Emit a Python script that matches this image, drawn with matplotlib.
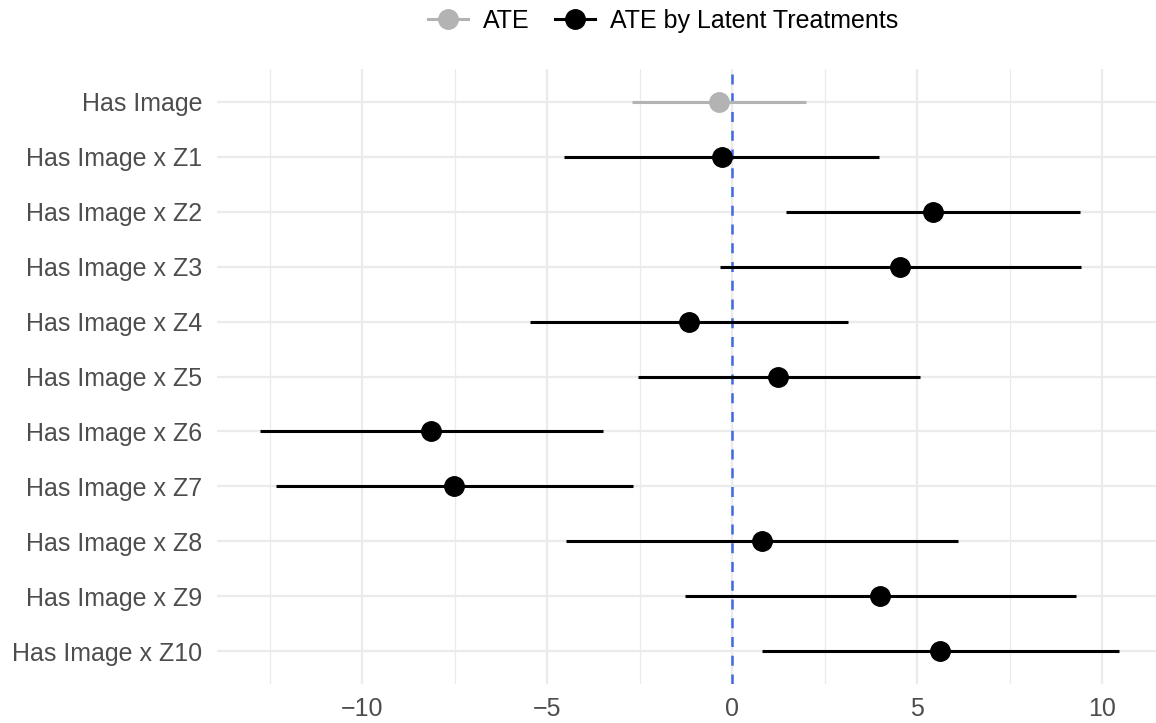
import numpy as np
import matplotlib.pyplot as plt
from matplotlib.lines import Line2D

plt.rcParams["font.family"] = ["Liberation Sans", "DejaVu Sans"]

terms = ["Has Image", "Has Image x Z1", "Has Image x Z2", "Has Image x Z3",
         "Has Image x Z4", "Has Image x Z5", "Has Image x Z6", "Has Image x Z7",
         "Has Image x Z8", "Has Image x Z9", "Has Image x Z10"]
estimate = [-0.36, -0.28, 5.43, 4.53, -1.17, 1.24, -8.14, -7.51, 0.81, 4.00, 5.62]
lower = [-2.72, -4.54, 1.46, -0.34, -5.46, -2.55, -12.77, -12.34, -4.48, -1.28, 0.81]
upper = [1.99, 3.98, 9.40, 9.43, 3.14, 5.07, -3.49, -2.68, 6.11, 9.29, 10.45]
group = ["ATE"] + ["ATE by Latent Treatments"] * 10
colors = {"ATE": "#B3B3B3", "ATE by Latent Treatments": "black"}

fig = plt.figure(figsize=(11.56, 7.23), dpi=100)
ax = fig.add_axes([217 / 1156, 1 - 684 / 723, (1156 - 217) / 1156, 615 / 723])

ypos = np.arange(len(terms))
for y, est, lo, hi, g in zip(ypos, estimate, lower, upper, group):
    c = colors[g]
    ax.plot([lo, hi], [y, y], color=c, lw=2.2, solid_capstyle="butt", zorder=3)
    ax.plot(est, y, "o", color=c, ms=14, zorder=4)

ax.axvline(0, color="#4169E1", lw=1.8, ls=(0, (4, 3.5)), zorder=2)

ax.set_xlim(-13.93, 11.46)
ax.set_ylim(len(terms) - 0.4, -0.6)
ax.set_yticks(ypos)
ax.set_yticklabels(terms)
ax.set_xticks([-10, -5, 0, 5, 10])
ax.set_xticklabels(["\u221210", "\u22125", "0", "5", "10"])
ax.set_xticks([-12.5, -7.5, -2.5, 2.5, 7.5], minor=True)

ax.grid(True, which="major", color="#EBEBEB", lw=1.6, zorder=0)
ax.grid(True, which="minor", axis="x", color="#EBEBEB", lw=0.9, zorder=0)
ax.set_axisbelow(True)
for s in ax.spines.values():
    s.set_visible(False)
ax.tick_params(axis="both", which="both", length=0, labelsize=18, labelcolor="#4D4D4D")
ax.tick_params(axis="y", pad=10.5)
ax.tick_params(axis="x", pad=9.5)

handles = [Line2D([], [], color=colors[g], lw=2.2, marker="o", ms=14) for g in colors]
fig.legend(handles, list(colors.keys()), loc="center", bbox_to_anchor=(663 / 1156, 1 - 21 / 723),
           ncol=2, frameon=False, fontsize=18, handlelength=1.6, handletextpad=0.6,
           columnspacing=1.0)

fig.savefig("out.png", dpi=100)
